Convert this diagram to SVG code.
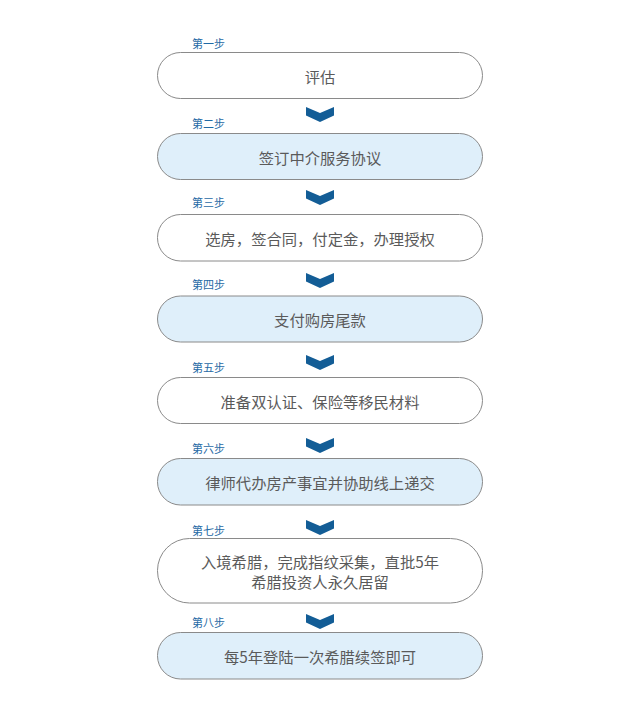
<svg xmlns="http://www.w3.org/2000/svg" width="640" height="713" viewBox="0 0 640 713">
<defs>
<style>
.box{stroke:#8a8a8a;stroke-width:1}
.w{fill:#ffffff}
.b{fill:#dfeffa}
.t{font-family:"Noto Sans CJK SC","Liberation Sans",sans-serif;font-size:15.3px;fill:#5a5a5a;text-anchor:middle;dominant-baseline:central}
.s{font-family:"Noto Sans CJK SC","Liberation Sans",sans-serif;font-size:11px;fill:#1f6aa5;dominant-baseline:central}
.chev{fill:#135d96}
</style>
<path id="chev" class="chev" d="M0,0 L14,6 L28,0 L28,8.5 L14,15 L0,8.5 Z"/>
</defs>
<rect width="640" height="713" fill="#ffffff"/>
<g id="connectors">
<use href="#chev" x="306" y="107"/>
<use href="#chev" x="306" y="190"/>
<use href="#chev" x="306" y="273"/>
<use href="#chev" x="306" y="355"/>
<use href="#chev" x="306" y="438"/>
<use href="#chev" x="306" y="520"/>
<use href="#chev" x="306" y="614"/>
</g>
<g id="step1"><text class="s" x="192" y="43">第一步</text><rect class="box w" x="157.5" y="52.5" width="325" height="46" rx="23"/><text class="t" x="320" y="75.5">评估</text></g>
<g id="step2"><text class="s" x="192" y="123">第二步</text><rect class="box b" x="157.5" y="133.5" width="325" height="46" rx="23"/><text class="t" x="320" y="156.5">签订中介服务协议</text></g>
<g id="step3"><text class="s" x="192" y="202">第三步</text><rect class="box w" x="157.5" y="214.5" width="325" height="46.5" rx="23"/><text class="t" x="320" y="238">选房，签合同，付定金，办理授权</text></g>
<g id="step4"><text class="s" x="192" y="284">第四步</text><rect class="box b" x="157.5" y="296" width="325" height="46" rx="23"/><text class="t" x="320" y="319">支付购房尾款</text></g>
<g id="step5"><text class="s" x="192" y="366.5">第五步</text><rect class="box w" x="157.5" y="377.5" width="325" height="46" rx="23"/><text class="t" x="320" y="400.5">准备双认证、保险等移民材料</text></g>
<g id="step6"><text class="s" x="192" y="448">第六步</text><rect class="box b" x="157.5" y="458.5" width="325" height="46.5" rx="23"/><text class="t" x="320" y="482">律师代办房产事宜并协助线上递交</text></g>
<g id="step7"><text class="s" x="192" y="529.5">第七步</text><rect class="box w" x="157.5" y="538.5" width="325" height="64.5" rx="32"/><text class="t" x="320" y="560.5">入境希腊，完成指纹采集，直批5年</text><text class="t" x="320" y="580.5">希腊投资人永久居留</text></g>
<g id="step8"><text class="s" x="192" y="622">第八步</text><rect class="box b" x="157.5" y="632.5" width="325" height="46.5" rx="23"/><text class="t" x="320" y="656">每5年登陆一次希腊续签即可</text></g>
</svg>
